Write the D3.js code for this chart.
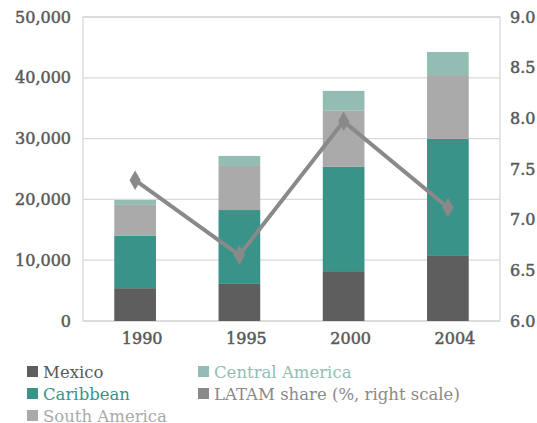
<!DOCTYPE html>
<html>
<head>
<meta charset="utf-8">
<script src="https://cdn.jsdelivr.net/npm/d3@7"></script>
<style>
  body { margin: 0; background: #fff; }
  text { font-family: "DejaVu Serif", serif; }
</style>
</head>
<body>
<div id="chart"></div>
<script>
// data
const years = ['1990', '1995', '2000', '2004'];
const mexico = [5400, 6100, 8200, 10700];
const caribbean = [8600, 12150, 17150, 19250];
const southAmerica = [5100, 7250, 9300, 10500];
const centralAmerica = [800, 1650, 3200, 3800];
const latamShare = [7.39, 6.65, 7.97, 7.12];
const leftTicks = [0, 10000, 20000, 30000, 40000, 50000];
const rightTicks = [6.0, 6.5, 7.0, 7.5, 8.0, 8.5, 9.0];

(function(){
    const W = 537, H = 423;
    const margin = { top: 17, right: 37, bottom: 102, left: 83 };
    const width = W - margin.left - margin.right;
    const height = H - margin.top - margin.bottom;

    const svg = d3.select('#chart')
        .append('svg')
            .attr('width', W)
            .attr('height', H);

    const g = svg.append('g')
        .attr('transform', `translate(${margin.left}, ${margin.top})`);

    const series = [
        { name: 'Mexico', values: mexico, color: '#5e5e5e' },
        { name: 'Caribbean', values: caribbean, color: '#3a9388' },
        { name: 'South America', values: southAmerica, color: '#aaaaaa' },
        { name: 'Central America', values: centralAmerica, color: '#93bdb3' }
    ];

    const rows = years.map((y, i) => {
        const r = { year: y };
        series.forEach(s => r[s.name] = s.values[i]);
        return r;
    });

    const stack = d3.stack().keys(series.map(s => s.name))(rows);

    const x = d3.scaleBand()
        .domain(years)
        .range([0, width])
        .paddingInner(0.6)
        .paddingOuter(0.3);

    const y = d3.scaleLinear()
        .domain([0, 50000])
        .range([height, 0]);

    const y2 = d3.scaleLinear()
        .domain([6, 9])
        .range([height, 0]);

    // grid
    g.selectAll('.grid')
        .data(leftTicks)
        .enter()
        .append('line')
            .attr('x1', 0)
            .attr('x2', width)
            .attr('y1', d => y(d))
            .attr('y2', d => y(d))
            .style('stroke', '#d9d9d9')
            .style('stroke-width', 1.3);

    g.append('rect')
        .attr('x', 0).attr('y', 0)
        .attr('width', width).attr('height', height)
        .style('fill', 'none')
        .style('stroke', '#d9d9d9')
        .style('stroke-width', 1.3);

    // bars
    g.selectAll('.layer')
        .data(stack)
        .enter()
        .append('g')
            .style('fill', (d, i) => series[i].color)
        .selectAll('rect')
        .data(d => d)
        .enter()
        .append('rect')
            .attr('x', d => x(d.data.year))
            .attr('width', x.bandwidth())
            .attr('y', d => y(d[1]))
            .attr('height', d => y(d[0]) - y(d[1]));

    // line
    const line = d3.line()
        .x((d, i) => x(years[i]) + x.bandwidth() / 2)
        .y(d => y2(d));

    g.append('path')
        .datum(latamShare)
        .attr('d', line)
        .style('fill', 'none')
        .style('stroke', '#898989')
        .style('stroke-width', 4);

    g.selectAll('.marker')
        .data(latamShare)
        .enter()
        .append('path')
            .attr('d', d3.symbol().type(d3.symbolDiamond).size(110))
            .attr('transform', (d, i) => `translate(${x(years[i]) + x.bandwidth() / 2}, ${y2(d)})`)
            .style('fill', '#898989');

    // axes
    const yAxis = g.append('g')
        .call(d3.axisLeft(y).tickValues(leftTicks).tickFormat(d3.format(',')).tickSize(0).tickPadding(12));
    const y2Axis = g.append('g')
        .attr('transform', `translate(${width}, 0)`)
        .call(d3.axisRight(y2).tickValues(rightTicks).tickFormat(d3.format('.1f')).tickSize(0).tickPadding(10));
    const xAxis = g.append('g')
        .attr('transform', `translate(7, ${height})`)
        .call(d3.axisBottom(x).tickSize(0).tickPadding(12));

    [yAxis, y2Axis, xAxis].forEach(a => {
        a.select('.domain').remove();
        a.selectAll('text')
            .style('font-family', '"DejaVu Serif", serif')
            .style('font-size', '16px')
            .style('fill', '#595959')
            .style('stroke', '#595959')
            .style('stroke-width', 0.5);
    });

    // legend
    const legendItems = [
        { name: 'Mexico', color: '#5e5e5e', text: '#595959', col: 0, row: 0 },
        { name: 'Central America', color: '#93bdb3', text: '#93bdb3', col: 1, row: 0 },
        { name: 'Caribbean', color: '#3a9388', text: '#3a9388', col: 0, row: 1 },
        { name: 'LATAM share (%, right scale)', color: '#898989', text: '#898989', col: 1, row: 1 },
        { name: 'South America', color: '#aaaaaa', text: '#aaaaaa', col: 0, row: 2 }
    ];

    const legend = svg.append('g');
    const items = legend.selectAll('.item')
        .data(legendItems)
        .enter()
        .append('g')
            .attr('transform', d => `translate(${27 + d.col * 171}, ${366 + d.row * 22})`);

    items.append('rect')
        .attr('width', 11)
        .attr('height', 11)
        .style('fill', d => d.color);

    items.append('text')
        .attr('x', 16)
        .attr('y', 12)
        .style('font-size', '16.5px')
        .style('fill', d => d.text)
        .text(d => d.name);
}())
</script>
</body>
</html>
